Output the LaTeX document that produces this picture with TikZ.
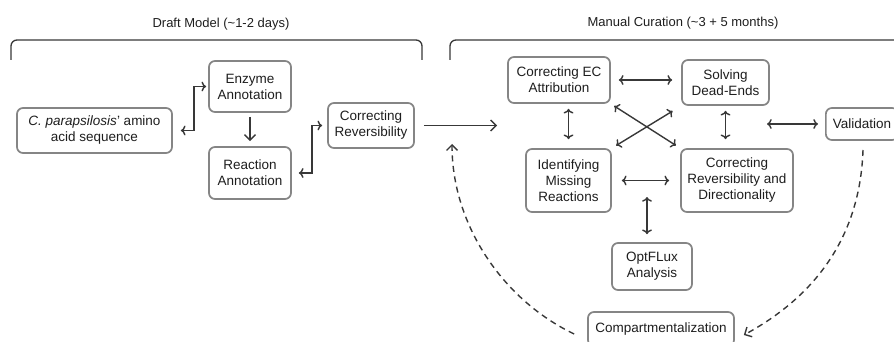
\documentclass[tikz,border=0pt]{standalone}
\usepackage{fontspec}
\setmainfont{Liberation Sans}
\usetikzlibrary{arrows.meta}
\definecolor{boxgray}{HTML}{858585}
\definecolor{linegray}{HTML}{383838}
\definecolor{txtgray}{HTML}{1E1E1E}
\tikzset{
  stage/.style={draw=boxgray, line width=1.7pt, rounded corners=6pt, fill=white,
    align=center, inner sep=2pt, text=txtgray, font=\fontsize{13.5}{16}\selectfont},
  link/.style={draw=linegray, line width=1.4pt, arrows={-Straight Barb[length=5.5pt,width=11pt]}},
  loopback/.style={link, dashed, dash pattern=on 6pt off 4.5pt},
  brace/.style={draw=linegray, line width=1.3pt, rounded corners=6pt},
  heading/.style={text=txtgray, font=\fontsize{13}{16}\selectfont}
}
\begin{document}
\begin{tikzpicture}[x=1pt, y=-1pt]
      \useasboundingbox (0, 0) rectangle (894, 342);
      \clip (0, 0) rectangle (894, 342);

      \node[heading] (draft) at (221, 24) {Draft Model (\textasciitilde1-2 days)};
      \node[heading] (curation) at (683, 23) {Manual Curation (\textasciitilde3 + 5 months)};
      \draw[brace] (11, 60) -- (11, 40) -- (422, 40) -- (422, 60);
      \draw[brace] (450, 60) -- (450, 40) -- (910, 40);

      \node[stage, minimum width=155pt, minimum height=45pt] (para) at (94.5, 130.5) {\textit{C. parapsilosis}' amino\\acid sequence};
      \node[stage, minimum width=82pt, minimum height=51pt] (enz) at (250, 86.5) {Enzyme\\Annotation};
      \node[stage, minimum width=82pt, minimum height=52pt] (react) at (250, 173) {Reaction\\Annotation};
      \node[stage, minimum width=86pt, minimum height=45pt] (crev) at (371, 125.5) {Correcting\\Reversibility};

      \node[stage, minimum width=102pt, minimum height=46pt] (ec) at (559, 80) {Correcting EC\\Attribution};
      \node[stage, minimum width=87pt, minimum height=45pt] (solv) at (725.5, 82.5) {Solving\\Dead-Ends};
      \node[stage, minimum width=85pt, minimum height=63pt] (ident) at (568.5, 180.5) {Identifying\\Missing\\Reactions};
      \node[stage, minimum width=112pt, minimum height=63pt] (crd) at (737, 180.5) {Correcting\\Reversibility and\\Directionality};
      \node[stage, minimum width=80pt, minimum height=47pt] (optf) at (652, 266.5) {OptFLux\\Analysis};
      \node[stage, anchor=west, inner xsep=7pt, minimum height=32pt] (valid) at (825, 124) {Validation};
      \node[stage, minimum width=146pt, minimum height=34pt] (comp) at (661, 329) {Compartmentalization};

      \coordinate (curin) at (497, 125.5);
      \coordinate (valin) at (767, 124);
      \coordinate (optin) at (647, 197);
      \coordinate (validout) at (863, 150);
      \coordinate (curback) at (452, 144);

      \draw[link, <->, shorten <=8pt, shorten >=2pt] (para.east) -- ++(21, 0) |- (enz.west);
      \draw[link, shorten <=4pt, shorten >=5pt] (enz.south) -- (react.north);
      \draw[link, <->, shorten <=7pt, shorten >=5pt] (react.east) -- ++(20, 0) |- (crev.west);
      \draw[link, shorten <=9pt] (crev.east) -- (curin);

      \draw[link, <->, shorten <=8pt, shorten >=9pt] (ec.east) -- (solv.west |- ec.east);
      \draw[link, <->, shorten <=5pt, shorten >=9pt] (ident.north |- ec.south) -- (ident.north);
      \draw[link, <->, shorten <=5pt, shorten >=9pt] (solv.south) -- (solv.south |- crd.north);
      \draw[link, <->, shorten <=4pt, shorten >=5pt] (ec.south east) -- (crd.north west);
      \draw[link, <->, shorten <=10pt, shorten >=5pt] (solv.south west) -- (ident.north east);
      \draw[link, <->, shorten <=10pt, shorten >=11pt] (ident.east) -- (crd.west);
      \draw[link, <->, shorten >=8pt] (optin) -- (optin |- optf.north);
      \draw[link, <->, shorten >=7pt] (valin) -- (valid.west);

      \draw[loopback] (validout) .. controls (860, 240) and (812, 298) .. ([xshift=9pt, yshift=-6pt]comp.east);
      \draw[loopback] ([xshift=-13pt, yshift=-5pt]comp.west) .. controls (503, 300) and (452, 225) .. (curback);
    \end{tikzpicture}
\end{document}
